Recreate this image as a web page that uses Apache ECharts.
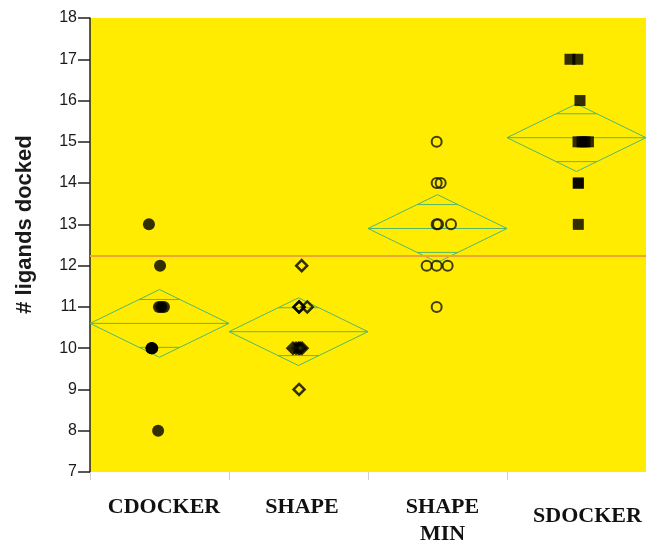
<!DOCTYPE html>
<html>
<head>
<meta charset="utf-8">
<script src="https://cdn.jsdelivr.net/npm/echarts@6/dist/echarts.min.js"></script>
<style>
  html, body { margin: 0; padding: 0; background: #fff; }
  #chart { width: 646px; height: 540px; }
</style>
</head>
<body>
<div id="chart"></div>
<script>
// groups, as labelled under the plot
var categories = ['CDOCKER', 'SHAPE', 'SHAPE\nMIN', 'SDOCKER'];

// ligands docked per run
var cdocker   = [13, 12, 11, 11, 11, 10, 10, 10, 10, 8];
var shape     = [12, 11, 11, 11, 10, 10, 10, 10, 10, 9];
var shapeMin  = [15, 14, 14, 13, 13, 13, 12, 12, 12, 11];
var sdocker   = [17, 17, 16, 15, 15, 15, 15, 14, 14, 13];

// horizontal jitter of each point (fraction of group width, from centre)
var cdockerJit  = [-0.076, 0.004, -0.004, 0.014, 0.032, -0.056, -0.056, -0.052, -0.058, -0.01];
var shapeJit    = [0.023, 0.004, 0.063, 0.004, -0.04, -0.018, 0, 0.011, 0.025, 0.004];
var shapeMinJit = [-0.006, -0.006, 0.023, -0.006, 0.004, 0.097, -0.078, -0.006, 0.073, -0.006];
var sdockerJit  = [-0.047, 0.009, 0.025, 0.011, 0.04, 0.061, 0.086, 0.013, 0.013, 0.013];

// half height of the 95% mean diamonds
var ciHalf = [0.82, 0.82, 0.82, 0.82];

var groups = [cdocker, shape, shapeMin, sdocker];
var jitters = [cdockerJit, shapeJit, shapeMinJit, sdockerJit];

function mean(a) {
	var s = 0;
	for (var i = 0; i < a.length; i++) s += a[i];
	return s / a.length;
}

var means = groups.map(mean);
var grandMean = mean(means);

function pts(k) {
	return groups[k].map(function (v, j) {
		return [k + 0.5 + jitters[k][j], v];
	});
}

var diamondData = means.map(function (m, k) {
	return [k, m, ciHalf[k]];
});

var green = '#52b86c';

var myChart = echarts.init(document.getElementById('chart'));

var option = {
	animation: false,
	backgroundColor: '#fff',
	grid: {
		left: 90, right: 0, top: 18, bottom: 68,
		show: true, backgroundColor: '#ffec00', borderWidth: 0,
		outerBoundsMode: 'none'
	},
	xAxis: [
		{ type: 'value', min: 0, max: 4, position: 'top', show: false },
		{
			type: 'category', position: 'bottom',
			data: [
				{ value: categories[0], textStyle: { padding: [0, 0, 0, 9] } },
				{ value: categories[1], textStyle: { padding: [0, 0, 0, 7] } },
				{ value: categories[2], textStyle: { padding: [0, 0, 0, 10] } },
				{ value: categories[3], textStyle: { padding: [9, 0, 0, 22] } }
			],
			axisLine: { show: false },
			axisTick: { show: true, length: 8, lineStyle: { color: '#cfcfcf' } },
			axisLabel: {
				interval: 0, margin: 22,
				fontFamily: 'Liberation Serif, Times New Roman, serif',
				fontWeight: 'bold', fontSize: 22, color: '#111', lineHeight: 27
			}
		}
	],
	yAxis: {
		type: 'value', min: 7, max: 18, interval: 1,
		name: '# ligands docked', nameLocation: 'middle', nameGap: 54,
		nameTextStyle: {
			fontFamily: 'Liberation Sans, Arial, sans-serif',
			fontWeight: 'bold', fontSize: 22, color: '#1a1a1a',
			padding: [0, 0, 0, 41]
		},
		axisLine: { show: true, lineStyle: { color: '#222', width: 1.5 } },
		axisTick: { show: true, length: 12, lineStyle: { color: '#222', width: 1.5 } },
		axisLabel: {
			margin: 13, fontSize: 16, color: '#1a1a1a',
			fontFamily: 'Liberation Sans, Arial, sans-serif'
		},
		splitLine: { show: false }
	},
	series: [
		{
			type: 'custom',
			xAxisIndex: 0,
			data: diamondData,
			z: 1,
			silent: true,
			renderItem: function (params, api) {
				var k = api.value(0), m = api.value(1), h = api.value(2);
				var left = api.coord([k, m]);
				var top = api.coord([k + 0.5, m + h]);
				var right = api.coord([k + 1, m]);
				var bottom = api.coord([k + 0.5, m - h]);
				var o = h / Math.SQRT2;
				var w = 0.5 * (1 - 1 / Math.SQRT2);
				var s = { stroke: green, lineWidth: 1, fill: null };
				var oUp1 = api.coord([k + 0.5 - w, m + o]), oUp2 = api.coord([k + 0.5 + w, m + o]);
				var oDn1 = api.coord([k + 0.5 - w, m - o]), oDn2 = api.coord([k + 0.5 + w, m - o]);
				return {
					type: 'group',
					children: [
						{ type: 'polygon', shape: { points: [left, top, right, bottom] }, style: s },
						{ type: 'line', shape: { x1: left[0], y1: left[1], x2: right[0], y2: right[1] }, style: s },
						{ type: 'line', shape: { x1: oUp1[0], y1: oUp1[1], x2: oUp2[0], y2: oUp2[1] }, style: s },
						{ type: 'line', shape: { x1: oDn1[0], y1: oDn1[1], x2: oDn2[0], y2: oDn2[1] }, style: s }
					]
				};
			},
			markLine: {
				silent: true,
				symbol: ['none', 'none'],
				label: { show: false },
				lineStyle: { color: '#eea532', width: 2, type: 'solid' },
				data: [{ yAxis: grandMean }]
			}
		},
		{
			name: 'CDOCKER', type: 'scatter', z: 3, xAxisIndex: 0,
			data: pts(0), symbol: 'circle', symbolSize: 12,
			itemStyle: { color: '#000' }
		},
		{
			name: 'SHAPE', type: 'scatter', z: 3, xAxisIndex: 0,
			data: pts(1), symbol: 'diamond', symbolSize: 11,
			itemStyle: { color: 'rgba(0,0,0,0)', borderColor: '#000', borderWidth: 2.5 }
		},
		{
			name: 'SHAPE MIN', type: 'scatter', z: 3, xAxisIndex: 0,
			data: pts(2), symbol: 'circle', symbolSize: 10,
			itemStyle: { color: 'rgba(0,0,0,0)', borderColor: '#111', borderWidth: 2 }
		},
		{
			name: 'SDOCKER', type: 'scatter', z: 3, xAxisIndex: 0,
			data: pts(3), symbol: 'rect', symbolSize: 11,
			itemStyle: { color: '#000' }
		}
	]
};

myChart.setOption(option);
</script>
</body>
</html>
